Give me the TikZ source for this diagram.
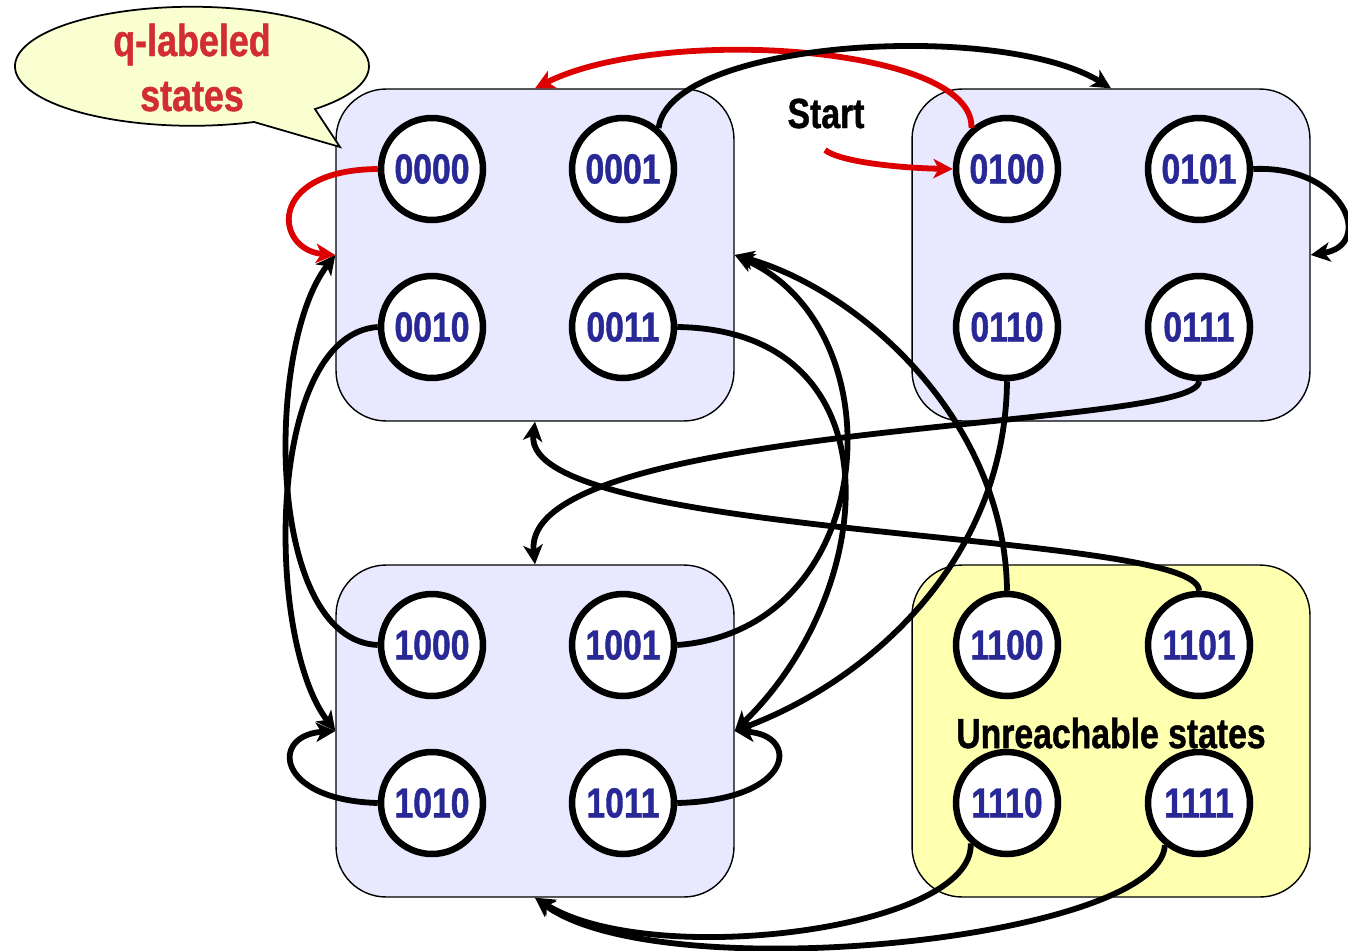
\documentclass[tikz,border=0pt]{standalone}
\usepackage{fontspec}
\usepackage{tikz}
\usetikzlibrary{arrows.meta, calc}
\newfontfamily\narrowsf{Liberation Sans}[FakeStretch=0.8, BoldFeatures={FakeBold=1}]
\definecolor{BoxBlue}{RGB}{232,232,255}
\definecolor{BoxYellow}{RGB}{255,255,176}
\definecolor{CalloutFill}{RGB}{250,255,210}
\definecolor{StateBlue}{RGB}{40,40,150}
\definecolor{LabelRed}{RGB}{210,45,50}
\definecolor{ArrowRed}{RGB}{220,0,0}
\newcommand{\bigfont}{\narrowsf\bfseries\fontsize{24}{31.3}\selectfont}

\begin{document}
\begin{tikzpicture}[x=0.02cm, y=-0.02cm,
	group/.style={draw=black, line width=0.8pt, fill=BoxBlue, rounded corners=1cm,
		minimum width=7.96cm, minimum height=6.64cm},
	state/.style={circle, draw=black, fill=white, line width=3.7pt, minimum size=2.04cm,
		inner sep=0pt, text=StateBlue, font=\bigfont},
	trans/.style={line width=3.3pt, -{Stealth[length=11pt, width=11pt, inset=3pt]}},
	qtrans/.style={trans, color=ArrowRed}]

	\useasboundingbox (0,0) rectangle (1348,950);

	% the four groups of states
	\node[group] (tl) at (535,255) {};
	\node[group] (tr) at (1111,255) {};
	\node[group] (bl) at (535,731) {};
	\node[group, fill=BoxYellow] (br) at (1111,731) {};

	% speech bubble
	\filldraw[fill=CalloutFill, draw=black, line width=1pt] (254,122)
		arc[start angle=69.5, end angle=406, x radius=177, y radius=59.5] -- (340,147) -- cycle;
	\node[align=center, text=LabelRed, font={\narrowsf\bfseries\fontsize{25.5}{31.3}\selectfont},
		inner sep=0pt] (qlabel) at (192,67.5) {q-labeled\\states};

	\node[state] (n0000) at (432,169) {0000};
	\node[state] (n0001) at (623,169) {0001};
	\node[state] (n0010) at (432,327) {0010};
	\node[state] (n0011) at (623,327) {0011};
	\node[state] (n0100) at (1007,169) {0100};
	\node[state] (n0101) at (1199,169) {0101};
	\node[state] (n0110) at (1007,327) {0110};
	\node[state] (n0111) at (1199,327) {0111};
	\node[state] (n1000) at (432,645) {1000};
	\node[state] (n1001) at (623,645) {1001};
	\node[state] (n1010) at (432,803) {1010};
	\node[state] (n1011) at (623,803) {1011};
	\node[state] (n1100) at (1007,645) {1100};
	\node[state] (n1101) at (1199,645) {1101};
	\node[state] (n1110) at (1007,803) {1110};
	\node[state] (n1111) at (1199,803) {1111};

	\node[font=\bigfont, inner sep=0pt] (start) at (826,113.5) {Start};
	\node[font=\bigfont, inner sep=0pt] (unreach) at (1111,733) {Unreachable states};
	\coordinate (s0) at (825,150);

	% red: start state and the q-labeled moves
	\draw[qtrans] (s0) .. controls (840,162) and (900,168) .. (n0100.west);
	\draw[qtrans] (n0100.131) .. controls (975,45) and (660,25) .. (tl.north);
	\draw[qtrans] (n0000.west) .. controls (265,170) and (275,250) .. (tl.west);

	% black transitions
	\draw[trans] (n0001.49) .. controls (670,40) and (1000,20) .. (tr.north);
	\draw[trans] (n0101.east) .. controls (1345,165) and (1375,245) .. (tr.east);
	\draw[trans] (n1000.west) .. controls (265,640) and (265,345) .. (tl.west);
	\draw[trans] (n0010.west) .. controls (265,335) and (265,640) .. (bl.west);
	\draw[trans] (n1010.west) .. controls (275,800) and (270,735) .. (bl.west);
	\draw[trans] (n1011.east) .. controls (795,800) and (800,735) .. (bl.east);
	\draw[trans] (n0011.east) .. controls (900,330) and (880,590) .. (bl.east);
	\draw[trans] (n1001.east) .. controls (880,630) and (900,330) .. (tl.east);
	\draw[trans] (n0110.south) .. controls (1005,560) and (870,680) .. (bl.east);
	\draw[trans] (n1100.north) .. controls (1005,420) and (860,290) .. (tl.east);
	\draw[trans] (n0111.south) .. controls (1200,430) and (520,420) .. (bl.north);
	\draw[trans] (n1101.north) .. controls (1200,530) and (520,540) .. (tl.south);
	\draw[trans] (n1110.228) .. controls (975,930) and (650,970) .. (bl.south);
	\draw[trans] (n1111.231) .. controls (1160,940) and (660,990) .. (bl.south);

\end{tikzpicture}
\end{document}
